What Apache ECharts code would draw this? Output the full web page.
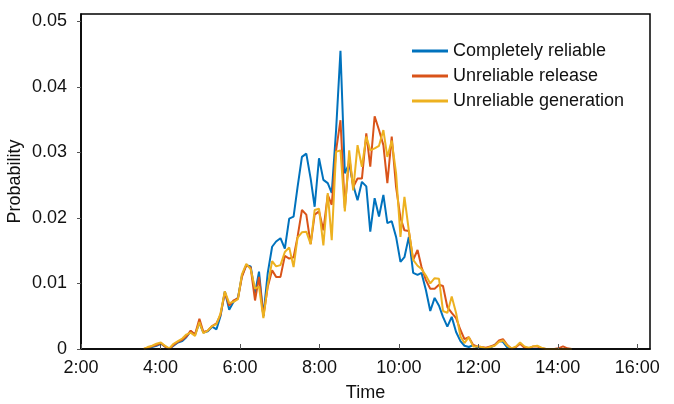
<!DOCTYPE html>
<html>
<head>
<meta charset="utf-8">
<script src="https://cdn.jsdelivr.net/npm/echarts@6/dist/echarts.min.js"></script>
<style>html,body{margin:0;padding:0;background:#fff;}#c{width:674px;height:404px;}</style>
</head>
<body>
<div id="c"></div>
<script>
// Time in decimal hours
const times = [3.58,3.68,3.79,3.90,4.01,4.11,4.22,4.33,4.44,4.55,
4.65,4.76,4.87,4.98,5.08,5.19,5.30,5.41,5.51,5.62,
5.73,5.84,5.95,6.05,6.16,6.27,6.38,6.48,6.59,6.70,
6.81,6.91,7.02,7.13,7.24,7.35,7.45,7.56,7.67,7.78,
7.88,7.99,8.10,8.21,8.31,8.42,8.53,8.64,8.75,8.85,
8.96,9.07,9.18,9.28,9.39,9.50,9.61,9.71,9.82,9.93,
10.04,10.14,10.25,10.36,10.47,10.57,10.68,10.79,10.90,11.01,
11.11,11.22,11.33,11.44,11.55,11.65,11.76,11.87,11.98,12.08,
12.19,12.30,12.41,12.52,12.62,12.73,12.84,12.95,13.05,13.16,
13.27,13.38,13.48,13.59,13.70,13.81,13.91,14.02,14.13,14.24,14.35];

const completelyReliable = [0,0,0.0003,0.0005,0.0008,0.0004,0,0.0005,0.0010,0.0012,
0.0018,0.0027,0.0022,0.0040,0.0025,0.0027,0.0034,0.0030,0.0050,0.0088,
0.0060,0.0072,0.0078,0.0112,0.0128,0.0126,0.0085,0.0118,0.0050,0.0116,
0.0156,0.0164,0.0169,0.0153,0.0199,0.0202,0.0247,0.0293,0.0298,0.0260,
0.0217,0.0291,0.0258,0.0253,0.0238,0.0334,0.0455,0.0268,0.0283,0.0250,
0.0227,0.0255,0.0248,0.0179,0.0230,0.0202,0.0235,0.0192,0.0195,0.0171,
0.0133,0.0140,0.0171,0.0116,0.0113,0.0116,0.0090,0.0058,0.0078,0.0066,
0.0049,0.0034,0.0049,0.0026,0.0012,0.0005,0.0003,0.0006,0.0002,0.0001,
0,0.0002,0.0006,0.0012,0.0011,0.0002,0,0,0,0,
0,0,0,0,0,0,0,0,0,0,0];

const unreliableRelease = [0,0.0002,0.0004,0.0006,0.0009,0.0004,0,0.0006,0.0011,0.0014,
0.0019,0.0028,0.0022,0.0046,0.0026,0.0028,0.0035,0.0039,0.0052,0.0086,
0.0066,0.0074,0.0077,0.0110,0.0128,0.0124,0.0074,0.0110,0.0050,0.0095,
0.0120,0.0110,0.0110,0.0142,0.0138,0.0140,0.0171,0.0212,0.0205,0.0160,
0.0205,0.0210,0.0181,0.0235,0.0220,0.0303,0.0349,0.0215,0.0293,0.0247,
0.0260,0.0260,0.0329,0.0278,0.0355,0.0334,0.0311,0.0253,0.0324,0.0247,
0.0200,0.0181,0.0180,0.0136,0.0151,0.0125,0.0105,0.0092,0.0092,0.0098,
0.0096,0.0064,0.0055,0.0047,0.0029,0.0015,0.0018,0.0006,0.0004,0.0003,
0.0002,0.0004,0.0006,0.0013,0.0015,0.0006,0,0.0003,0.0008,0.0002,
0.0001,0.0004,0.0004,0.0001,0,0,0,0.0001,0.0004,0.0001,0];

const unreliableGeneration = [0,0.0003,0.0005,0.0008,0.0010,0.0005,0.0001,0.0008,0.0012,0.0016,
0.0022,0.0025,0.0020,0.0041,0.0024,0.0028,0.0035,0.0038,0.0054,0.0088,
0.0070,0.0072,0.0076,0.0114,0.0130,0.0122,0.0092,0.0095,0.0047,0.0097,
0.0134,0.0126,0.0128,0.0148,0.0155,0.0125,0.0170,0.0178,0.0179,0.0160,
0.0212,0.0214,0.0158,0.0238,0.0166,0.0301,0.0303,0.0210,0.0303,0.0242,
0.0311,0.0278,0.0324,0.0303,0.0306,0.0310,0.0334,0.0293,0.0318,0.0268,
0.0171,0.0232,0.0181,0.0136,0.0127,0.0122,0.0112,0.0100,0.0108,0.0107,
0.0058,0.0055,0.0080,0.0055,0.0019,0.0009,0.0018,0.0004,0.0004,0.0003,
0.0001,0.0003,0.0005,0.0011,0.0013,0.0005,0.0001,0.0004,0.0010,0.0004,
0.0002,0.0004,0.0005,0.0002,0,0,0,0,0,0,0];

const seriesNames = ['Completely reliable','Unreliable release','Unreliable generation'];
const seriesColors = ['#0072BD','#D95319','#EDB120'];
const xTicks = [2,4,6,8,10,12,14,16];

const values = [completelyReliable, unreliableRelease, unreliableGeneration];
const font = 'Liberation Sans, Arial, sans-serif';

const chart = echarts.init(document.getElementById('c'), null, {renderer:'canvas'});
chart.setOption({
  animation: false,
  backgroundColor: '#fff',
  grid: {left: 81, right: 24, top: 14, bottom: 55, containLabel: false, outerBoundsMode: 'none',
    show: true, borderColor: '#000', borderWidth: 1.5, backgroundColor: 'transparent'},
  legend: {
    orient: 'vertical', left: 407, top: 37,
    itemWidth: 36, itemHeight: 3, itemGap: 7, icon: 'rect',
    textStyle: {fontFamily: font, fontSize: 18, color: '#111'},
    data: seriesNames
  },
  xAxis: {
    type: 'value', min: 2, max: 16.32, interval: 2, z: 10,
    name: 'Time', nameLocation: 'middle', nameGap: 35, nameMoveOverlap: false,
    nameTextStyle: {fontFamily: font, fontSize: 18, color: '#111'},
    axisLine: {lineStyle: {color: '#000', width: 1.5}},
    axisTick: {inside: true, length: 5, lineStyle: {color: '#555'}},
    axisLabel: {fontFamily: font, fontSize: 18, color: '#111', margin: 10, showMaxLabel: false,
      formatter: v => xTicks.includes(v) ? v + ':00' : ''},
    splitLine: {show: false}
  },
  yAxis: {
    type: 'value', min: 0, max: 0.0511, interval: 0.01, z: 10,
    name: 'Probability', nameLocation: 'middle', nameGap: 57, nameMoveOverlap: false,
    nameTextStyle: {fontFamily: font, fontSize: 18, color: '#111'},
    axisLine: {show: true, lineStyle: {color: '#000', width: 1.5}},
    axisTick: {show: true, inside: false, length: 4, lineStyle: {color: '#555'}},
    axisLabel: {fontFamily: font, fontSize: 18, color: '#111', margin: 14, showMaxLabel: false,
      formatter: v => {
        const r = Math.round(v * 100) / 100;
        if (Math.abs(v - r) > 1e-6) return '';
        return r === 0 ? '0' : r.toFixed(2);
      }},
    splitLine: {show: false}
  },
  series: values.map((arr, i) => ({
    name: seriesNames[i],
    type: 'line',
    data: times.map((t, k) => [t, arr[k]]),
    showSymbol: false,
    symbol: 'none',
    lineStyle: {color: seriesColors[i], width: 2},
    itemStyle: {color: seriesColors[i]},
    z: 2 + i
  }))
});
</script>
</body>
</html>
